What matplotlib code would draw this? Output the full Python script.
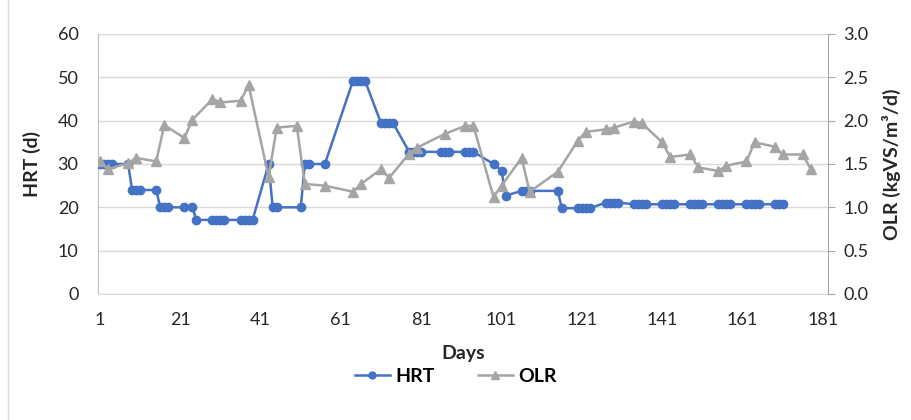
import matplotlib
matplotlib.use("Agg")
import matplotlib.pyplot as plt
from matplotlib.lines import Line2D

# HRT data (days, value in d)
hrt_days = [1, 2, 3, 4, 8, 9, 10, 11, 15, 16, 17, 18, 22, 24, 25,
            29, 30, 31, 32, 36, 37, 38, 39, 43, 44, 45, 51, 52, 53, 57,
            64, 65, 66, 67, 71, 72, 73, 74, 78, 79, 80, 81, 86, 87, 88,
            92, 93, 94, 99, 101, 102, 106, 107, 108, 115, 116,
            120, 121, 122, 123, 127, 128, 129, 130, 134, 135, 136, 137,
            141, 142, 143, 144, 148, 149, 150, 151, 155, 156, 157, 158,
            162, 163, 164, 165, 169, 170, 171]
hrt_vals = [30, 30, 30, 30, 30, 24, 24, 24, 24, 20, 20, 20, 20, 20, 17.1,
            17.1, 17.1, 17.1, 17.1, 17.1, 17.1, 17.1, 17.1, 30, 20, 20, 20, 30, 30, 30,
            49.2, 49.2, 49.2, 49.2, 39.4, 39.4, 39.4, 39.4, 32.8, 32.8, 32.8, 32.8, 32.8, 32.8, 32.8,
            32.8, 32.8, 32.8, 30, 28.5, 22.7, 23.8, 23.8, 23.8, 23.8, 19.8,
            19.8, 19.8, 19.8, 19.8, 21.1, 21.1, 21.1, 21.1, 20.7, 20.7, 20.7, 20.7,
            20.7, 20.7, 20.7, 20.7, 20.7, 20.7, 20.7, 20.7, 20.7, 20.7, 20.7, 20.7,
            20.7, 20.7, 20.7, 20.7, 20.7, 20.7, 20.7]

# OLR data (days, value in kgVS/m3/d)
olr_days = [1, 3, 8, 10, 15, 17, 22, 24, 29, 31, 36, 38, 43, 45, 50, 52, 57,
            64, 66, 71, 73, 78, 80, 87, 92, 94, 99, 101, 106, 108, 115,
            120, 122, 127, 129, 134, 136, 141, 143, 148, 150, 155, 157,
            162, 164, 169, 171, 176, 178]
olr_vals = [1.53, 1.44, 1.51, 1.57, 1.53, 1.95, 1.80, 2.01, 2.25, 2.21, 2.23, 2.41,
            1.35, 1.92, 1.94, 1.27, 1.25,
            1.18, 1.27, 1.44, 1.34, 1.62, 1.69, 1.85, 1.94, 1.94, 1.12, 1.25,
            1.57, 1.18, 1.41,
            1.77, 1.87, 1.90, 1.92, 1.99, 1.97, 1.75, 1.58, 1.61, 1.46, 1.42, 1.48,
            1.53, 1.75, 1.70, 1.61, 1.61, 1.44]

x_ticks = [1, 21, 41, 61, 81, 101, 121, 141, 161, 181]
left_ticks = [0, 10, 20, 30, 40, 50, 60]
right_ticks = [0.0, 0.5, 1.0, 1.5, 2.0, 2.5, 3.0]

plt.rcParams['font.family'] = ['Lato', 'DejaVu Sans']

blue = '#4472C4'
gray = '#A5A5A5'
axis_gray = '#BFBFBF'

fig = plt.figure(figsize=(9.12, 4.2), dpi=100)
ax = fig.add_axes([98/912, 1-294/420, (828-98)/912, (294-34)/420])
ax2 = ax.twinx()

ax.plot(hrt_days, hrt_vals, color=blue, lw=1.8, marker='o', markersize=6,
        markeredgecolor=blue, markerfacecolor=blue, zorder=3)
ax2.plot(olr_days, olr_vals, color=gray, lw=1.8, marker='^', markersize=7,
         markeredgecolor=gray, markerfacecolor=gray, zorder=3)

ax.set_xlim(0.5, 182.3)
ax.set_ylim(0, 60)
ax2.set_ylim(0, 3.0)
ax.set_xticks(x_ticks)
ax.set_yticks(left_ticks)
ax2.set_yticks(right_ticks)
ax2.set_yticklabels([f"{v:.1f}" for v in right_ticks])

ax.yaxis.grid(True, color='#D9D9D9', lw=1)
ax.set_axisbelow(True)

ax.spines['top'].set_visible(False)
ax2.spines['top'].set_visible(False)
ax.spines['right'].set_visible(False)
ax2.spines['left'].set_visible(False)
ax2.spines['bottom'].set_visible(False)
ax.spines['left'].set_color(axis_gray)
ax.spines['bottom'].set_color('#D9D9D9')
ax2.spines['right'].set_color('#A6A6A6')

ax.tick_params(axis='x', length=0, pad=13, labelsize=13, labelcolor='#262626')
ax.tick_params(axis='y', length=0, pad=14, labelsize=13, labelcolor='#262626')
ax2.tick_params(axis='y', length=5, color='#A6A6A6', pad=6, labelsize=13, labelcolor='#262626')

ax.set_xlabel('Days', fontsize=14, fontweight='bold', labelpad=12, color='#262626')
ax.set_ylabel('HRT (d)', fontsize=14, fontweight='bold', labelpad=12, color='#262626')
ax2.set_ylabel('OLR (kgVS/m\u00b3/d)', fontsize=14, fontweight='bold', labelpad=10, color='#262626')

handles = [Line2D([0], [0], color=blue, lw=1.8, marker='o', markersize=5),
           Line2D([0], [0], color=gray, lw=1.8, marker='^', markersize=6)]
leg = fig.legend(handles, ['HRT', 'OLR'], loc='center', bbox_to_anchor=(0.5, 1-376/420),
                 ncol=2, frameon=False, prop={'weight': 'bold', 'size': 14},
                 handlelength=1.8, columnspacing=2.2, handletextpad=0.3)

fig.add_artist(Line2D([8/912, 8/912], [0, 1], transform=fig.transFigure, color='#D9D9D9', lw=1))

fig.savefig('out.png', dpi=100)
